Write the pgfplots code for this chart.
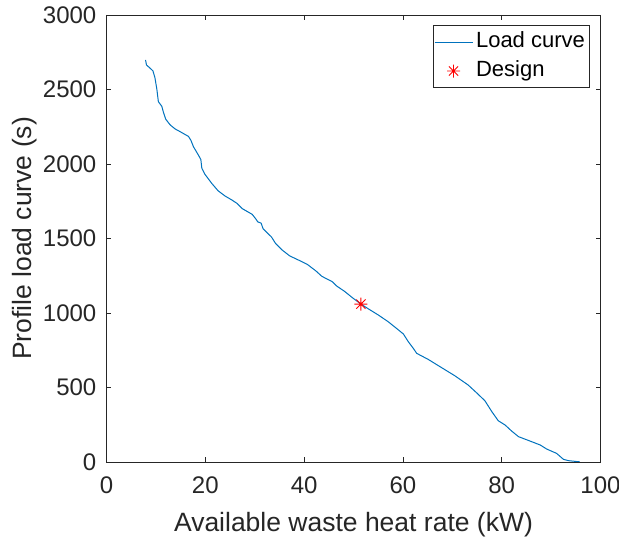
\documentclass[border=0pt]{standalone}
\usepackage{pgfplots}
\pgfplotsset{compat=1.18}
\usepackage{fontspec}
\setmainfont{Liberation Sans}

\definecolor{axgray}{rgb}{0.15,0.15,0.15}
\definecolor{mblue}{rgb}{0,0.447,0.741}

% eight-armed asterisk (plus and cross)
\pgfdeclareplotmark{mstar}{%
  \pgfpathmoveto{\pgfqpoint{-\pgfplotmarksize}{0pt}}%
  \pgfpathlineto{\pgfqpoint{\pgfplotmarksize}{0pt}}%
  \pgfpathmoveto{\pgfqpoint{0pt}{-\pgfplotmarksize}}%
  \pgfpathlineto{\pgfqpoint{0pt}{\pgfplotmarksize}}%
  \pgfpathmoveto{\pgfqpoint{-0.7071\pgfplotmarksize}{-0.7071\pgfplotmarksize}}%
  \pgfpathlineto{\pgfqpoint{0.7071\pgfplotmarksize}{0.7071\pgfplotmarksize}}%
  \pgfpathmoveto{\pgfqpoint{-0.7071\pgfplotmarksize}{0.7071\pgfplotmarksize}}%
  \pgfpathlineto{\pgfqpoint{0.7071\pgfplotmarksize}{-0.7071\pgfplotmarksize}}%
  \pgfusepathqstroke}

\pgfplotstableread{
x     y
7.9   2698
8.1   2664
8.6   2650
9.4   2625
9.8   2580
10.2  2500
10.5  2418
11.2  2387
11.5  2350
12.0  2300
12.9  2262
13.9  2235
14.9  2217
15.8  2200
16.6  2185
17.1  2158
17.6  2116
18.6  2060
19.1  2030
19.3  1971
19.9  1932
21.3  1870
22.6  1820
24.0  1785
25.3  1760
26.4  1736
27.5  1700
29.5  1662
30.3  1628
30.6  1612
31.3  1603
31.7  1565
33.4  1510
34.2  1468
35.5  1424
37.1  1383
39.2  1350
40.7  1325
42.4  1282
43.6  1246
45.7  1210
46.6  1181
48.2  1145
49.8  1102
51.5  1060
53.0  1028
55.0  987
57.0  942
58.7  897
60.1  859
61.1  807
62.1  763
62.8  729
65.1  689
67.5  640
70.5  579
73.2  517
74.9  465
76.6  411
78.0  338
79.3  277
80.7  248
82.0  208
83.4  170
85.7  141
87.8  114
89.1  87
91.1  58
92.5  18
93.5  9
95.8  1
}\loadcurve

\begin{document}
\begin{tikzpicture}
\begin{axis}[
  width=494pt, height=447pt, scale only axis,
  xmin=0, xmax=100, ymin=0, ymax=3000,
  xtick={0,20,...,100}, ytick={0,500,...,3000},
  tick align=inside, major tick length=5pt,
  axis line style={axgray, line width=0.6pt},
  tick style={axgray, line width=0.6pt},
  /pgf/number format/assume math mode=true,
  /pgf/number format/1000 sep={},
  ticklabel style={font=\fontsize{24}{28}\selectfont, text=axgray, inner sep=0pt},
  yticklabel style={xshift=-10pt},
  xticklabel style={yshift=-15pt},
  label style={font=\fontsize{26.5}{31}\selectfont, text=axgray},
  xlabel={Available waste heat rate (kW)},
  ylabel={Profile load curve (s)},
  xlabel style={at={(axis description cs:0.5,-0.1555)}, anchor=base},
  ylabel style={at={(axis description cs:-0.1518,0.5)}, anchor=base},
  legend style={at={(axis description cs:0.977,0.977)}, anchor=north east,
    draw=axgray, line width=0.5pt, font=\fontsize{22}{26}\selectfont,
    inner xsep=1pt, inner ysep=2pt,
    nodes={text height=16pt, text depth=5pt, inner ysep=4pt, inner xsep=3pt}},
  legend cell align=left,
]
\addplot[mblue, line width=1pt,
  legend image code/.code={\draw[mblue, line width=1pt] (0pt,0pt) -- (38pt,0pt);}]
  table[x=x, y=y] {\loadcurve};
\addlegendentry{Load curve}
\addplot[only marks, mark=mstar, mark size=6.5pt, red, line width=0.9pt,
  legend image code/.code={\draw[red, line width=0.9pt] plot[mark=mstar, mark size=6.5pt] coordinates {(19pt,0pt)};}]
  coordinates {(51.5,1060)};
\addlegendentry{Design}
\end{axis}
\pgfresetboundingbox
\path ([shift={(-106.5pt,-75pt)}]current axis.south west)
  rectangle ([shift={(18.5pt,15pt)}]current axis.north east);
\end{tikzpicture}
\end{document}
